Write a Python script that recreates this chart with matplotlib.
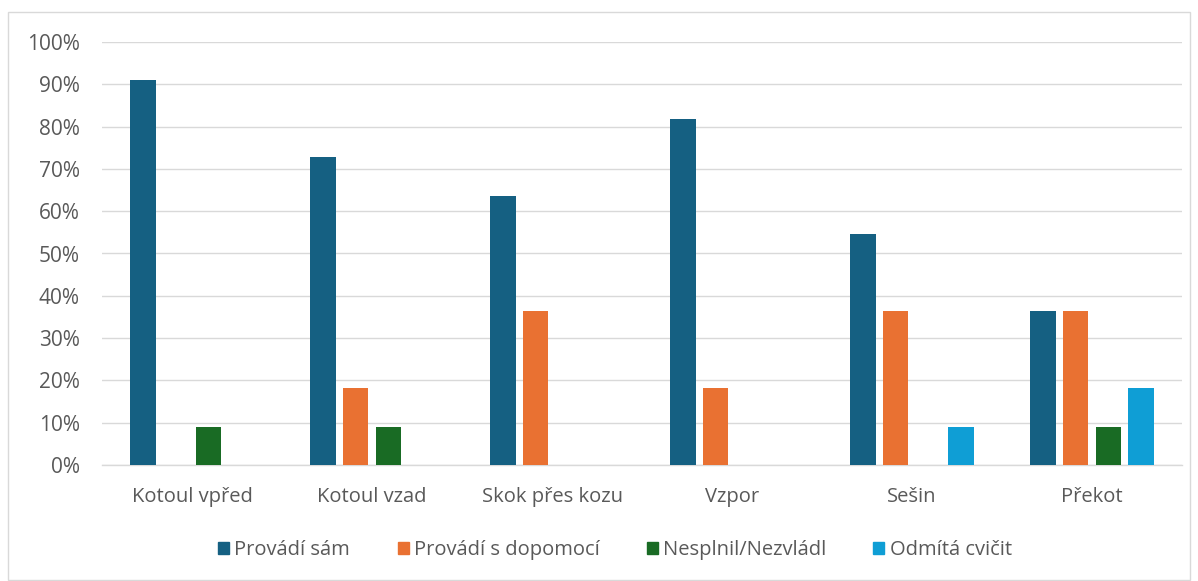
import numpy as np
import matplotlib
matplotlib.use("Agg")
import matplotlib.pyplot as plt
from matplotlib import patches as mpatches

categories = ["Kotoul vpřed", "Kotoul vzad", "Skok přes kozu", "Vzpor", "Sešin", "Překot"]
series_names = ["Provádí sám", "Provádí s dopomocí", "Nesplnil/Nezvládl", "Odmítá cvičit"]
provadi_sam = [90.9, 72.7, 63.6, 81.8, 54.5, 36.4]
provadi_dopomoc = [0.0, 18.2, 36.4, 18.2, 36.4, 36.4]
nesplnil = [9.1, 9.1, 0.0, 0.0, 0.0, 9.1]
odmita = [0.0, 0.0, 0.0, 0.0, 9.1, 18.2]
series = [provadi_sam, provadi_dopomoc, nesplnil, odmita]
colors = ["#156082", "#E97132", "#196B24", "#0F9ED5"]
yticks = list(range(0, 101, 10))

plt.rcParams.update({"font.family": ["Open Sans", "DejaVu Sans"]})
TXT = "#595959"

fig = plt.figure(figsize=(11.98, 5.81), dpi=100)
ax = fig.add_axes([102 / 1198, 1 - 465 / 581, 1080 / 1198, 423 / 581])

# chart border
fig.patches.append(mpatches.Rectangle((8 / 1198, 1 / 581), 1182 / 1198, 568 / 581,
                                      transform=fig.transFigure, fill=False,
                                      edgecolor="#D9D9D9", linewidth=1))

x = np.arange(len(categories))
step, width = 0.183, 0.144
for i, (vals, name, c) in enumerate(zip(series, series_names, colors)):
    ax.bar(x + (i - 1.5) * step, vals, width=width, color=c, label=name, zorder=3)

ax.set_xlim(-0.5, len(categories) - 0.5)
ax.set_ylim(0, 100)
ax.set_yticks(yticks)
ax.set_yticklabels([f"{t}%" for t in yticks], fontsize=15, color=TXT)
ax.set_xticks(x)
ax.set_xticklabels(categories, fontsize=14.5, color=TXT)
ax.tick_params(axis="both", length=0)
ax.tick_params(axis="y", pad=16)
ax.tick_params(axis="x", pad=16)
ax.grid(True, axis="y", color="#D9D9D9", linewidth=1, zorder=0)
ax.set_axisbelow(True)
for s in ("top", "right", "left"):
    ax.spines[s].set_visible(False)
ax.spines["bottom"].set_color("#D9D9D9")
ax.spines["bottom"].set_linewidth(1)

handles = [mpatches.Patch(color=c, label=n) for c, n in zip(colors, series_names)]
leg = fig.legend(handles=handles, loc="center", bbox_to_anchor=(615 / 1198, 1 - 550 / 581),
                 ncol=4, frameon=False, fontsize=14.5, handlelength=0.55, handleheight=0.55,
                 handletextpad=0.25, columnspacing=2.35)
for t in leg.get_texts():
    t.set_color(TXT)

fig.savefig("out.png", dpi=100)
